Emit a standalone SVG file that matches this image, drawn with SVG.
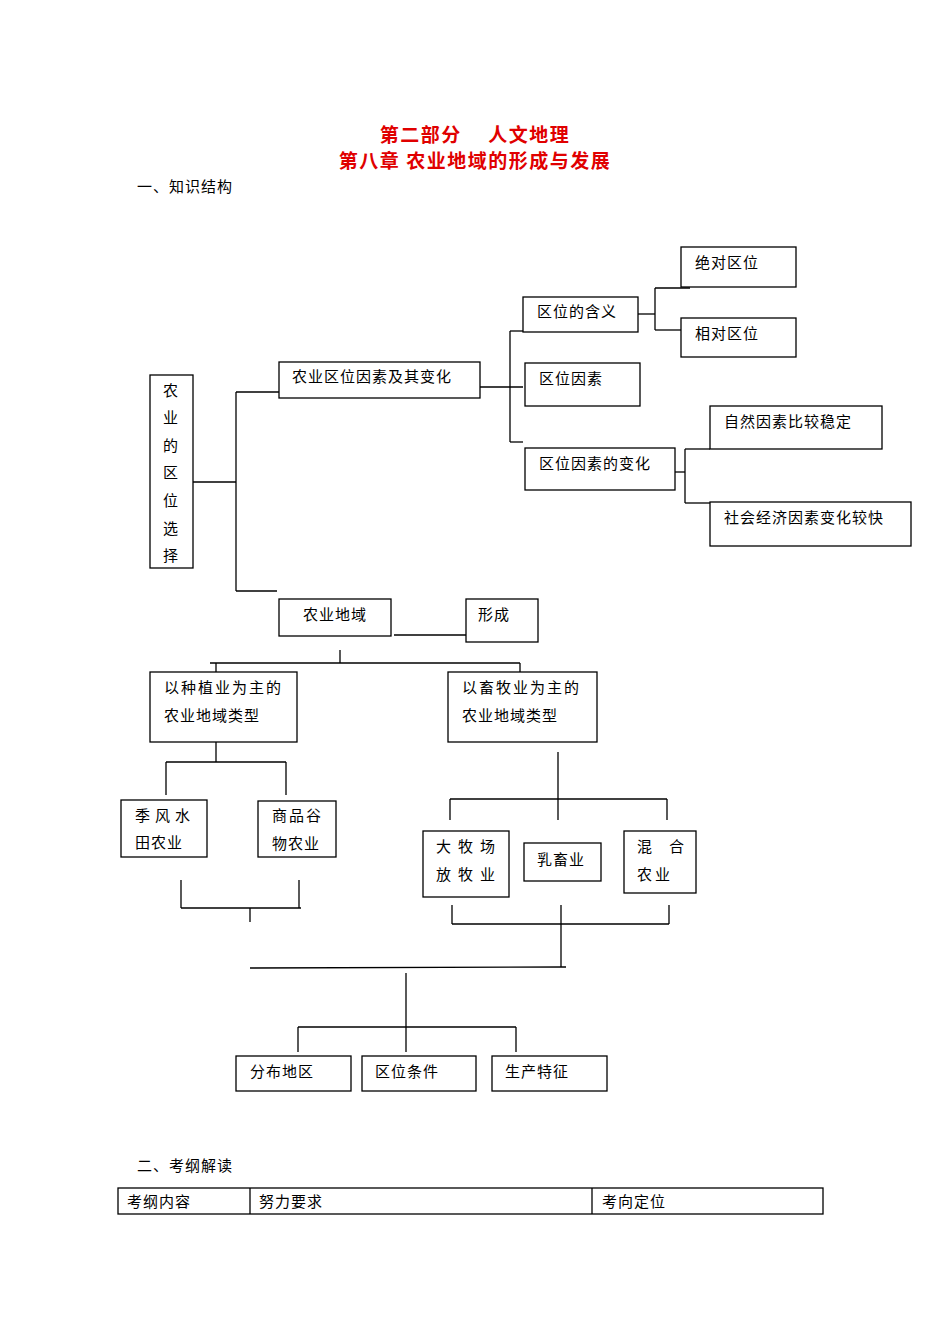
<svg xmlns="http://www.w3.org/2000/svg" width="950" height="1344" viewBox="0 0 950 1344">
<style>
rect{fill:#fff;stroke:#000;stroke-width:1.3}
text{font-family:"Noto Sans CJK SC","Liberation Sans",sans-serif;font-size:15px;fill:#000;letter-spacing:1px}
.t{font-size:19px;font-weight:bold;fill:#e00000;text-anchor:middle;letter-spacing:1.5px}
#c line{stroke:#000;stroke-width:1.3}
</style>
<rect x="0" y="0" width="950" height="1344" style="stroke:none"/>
<text class="t" x="475" y="142">第二部分　 人文地理</text>
<text class="t" x="475" y="168">第八章  农业地域的形成与发展</text>
<text x="137" y="192">一、知识结构</text>
<g id="c">
<line x1="193" y1="482" x2="236" y2="482"/><line x1="236" y1="392" x2="236" y2="591"/>
<line x1="236" y1="392" x2="279" y2="392"/><line x1="236" y1="591" x2="277" y2="591"/>
<line x1="480" y1="387" x2="523" y2="387"/><line x1="510" y1="331" x2="510" y2="442"/>
<line x1="510" y1="331" x2="523" y2="331"/><line x1="510" y1="442" x2="523" y2="442"/>
<line x1="638" y1="314" x2="655" y2="314"/><line x1="655" y1="288" x2="655" y2="330"/>
<line x1="655" y1="288" x2="690" y2="288"/><line x1="655" y1="330" x2="681" y2="330"/>
<line x1="675" y1="472" x2="685" y2="472"/><line x1="685" y1="449" x2="685" y2="503"/>
<line x1="685" y1="449" x2="710" y2="449"/><line x1="685" y1="503" x2="710" y2="503"/>
<line x1="394" y1="635" x2="466" y2="635"/>
<line x1="340" y1="650" x2="340" y2="663"/><line x1="210" y1="663" x2="520" y2="663"/>
<line x1="216" y1="663" x2="216" y2="672"/><line x1="520" y1="663" x2="520" y2="672"/>
<line x1="216" y1="742" x2="216" y2="762"/><line x1="166" y1="762" x2="286" y2="762"/>
<line x1="166" y1="762" x2="166" y2="795"/><line x1="286" y1="762" x2="286" y2="795"/>
<line x1="181" y1="880" x2="181" y2="908"/><line x1="299" y1="880" x2="299" y2="908"/>
<line x1="181" y1="908" x2="301" y2="908"/><line x1="250" y1="908" x2="250" y2="922"/>
<line x1="558" y1="752" x2="558" y2="820"/><line x1="450" y1="799" x2="667" y2="799"/>
<line x1="450" y1="799" x2="450" y2="820"/><line x1="667" y1="799" x2="667" y2="820"/>
<line x1="452" y1="905" x2="452" y2="924"/><line x1="669" y1="905" x2="669" y2="924"/>
<line x1="452" y1="924" x2="669" y2="924"/><line x1="561" y1="905" x2="561" y2="967"/>
<line x1="250" y1="968" x2="566" y2="967"/>
<line x1="406" y1="973" x2="406" y2="1052"/><line x1="298" y1="1027" x2="516" y2="1027"/>
<line x1="298" y1="1027" x2="298" y2="1052"/><line x1="516" y1="1027" x2="516" y2="1052"/>
</g>
<g id="n1"><rect x="150" y="375" width="43" height="193"/>
<text x="171" y="396" text-anchor="middle">农</text><text x="171" y="423" text-anchor="middle">业</text><text x="171" y="451" text-anchor="middle">的</text><text x="171" y="478" text-anchor="middle">区</text><text x="171" y="506" text-anchor="middle">位</text><text x="171" y="534" text-anchor="middle">选</text><text x="171" y="561" text-anchor="middle">择</text></g>
<g id="n2"><rect x="279" y="362" width="201" height="36"/><text x="292" y="382">农业区位因素及其变化</text></g>
<g id="n3"><rect x="523" y="297" width="115" height="35"/><text x="537" y="317">区位的含义</text></g>
<g id="n4"><rect x="681" y="247" width="115" height="40"/><text x="695" y="268">绝对区位</text></g>
<g id="n5"><rect x="681" y="318" width="115" height="39"/><text x="695" y="339">相对区位</text></g>
<g id="n6"><rect x="525" y="363" width="115" height="43"/><text x="539" y="384">区位因素</text></g>
<g id="n7"><rect x="710" y="406" width="172" height="43"/><text x="724" y="427">自然因素比较稳定</text></g>
<g id="n8"><rect x="525" y="448" width="150" height="42"/><text x="539" y="469">区位因素的变化</text></g>
<g id="n9"><rect x="710" y="502" width="201" height="44"/><text x="724" y="523">社会经济因素变化较快</text></g>
<g id="n10"><rect x="279" y="599" width="112" height="37"/><text x="303" y="620">农业地域</text></g>
<g id="n11"><rect x="466" y="599" width="72" height="43"/><text x="478" y="620">形成</text></g>
<g id="n12"><rect x="150" y="672" width="147" height="70"/><text x="164" y="693" style="letter-spacing:2px">以种植业为主的</text><text x="164" y="721">农业地域类型</text></g>
<g id="n13"><rect x="448" y="672" width="149" height="70"/><text x="462" y="693" style="letter-spacing:2px">以畜牧业为主的</text><text x="462" y="721">农业地域类型</text></g>
<g id="n14"><rect x="121" y="800" width="86" height="57"/><text x="135" y="821" style="letter-spacing:5px">季风水</text><text x="135" y="848">田农业</text></g>
<g id="n15"><rect x="258" y="801" width="78" height="56"/><text x="272" y="821" style="letter-spacing:2px">商品谷</text><text x="272" y="849">物农业</text></g>
<g id="n16"><rect x="423" y="831" width="86" height="66"/><text x="436" y="852" style="letter-spacing:7px">大牧场</text><text x="436" y="880" style="letter-spacing:7px">放牧业</text></g>
<g id="n17"><rect x="524" y="843" width="77" height="38"/><text x="537" y="865">乳畜业</text></g>
<g id="n18"><rect x="624" y="831" width="72" height="62"/><text x="637" y="852">混　合</text><text x="637" y="880" style="letter-spacing:3px">农业</text></g>
<g id="n19"><rect x="236" y="1056" width="115" height="35"/><text x="250" y="1077">分布地区</text></g>
<g id="n20"><rect x="362" y="1056" width="114" height="35"/><text x="375" y="1077">区位条件</text></g>
<g id="n21"><rect x="492" y="1056" width="115" height="35"/><text x="505" y="1077">生产特征</text></g>
<text x="137" y="1171">二、考纲解读</text>
<g id="table"><rect x="118" y="1188" width="705" height="26"/>
<line x1="250" y1="1188" x2="250" y2="1214" stroke="#000" stroke-width="1.3"/><line x1="592" y1="1188" x2="592" y2="1214" stroke="#000" stroke-width="1.3"/>
<text x="127" y="1207">考纲内容</text><text x="259" y="1207">努力要求</text><text x="602" y="1207">考向定位</text></g>
</svg>
